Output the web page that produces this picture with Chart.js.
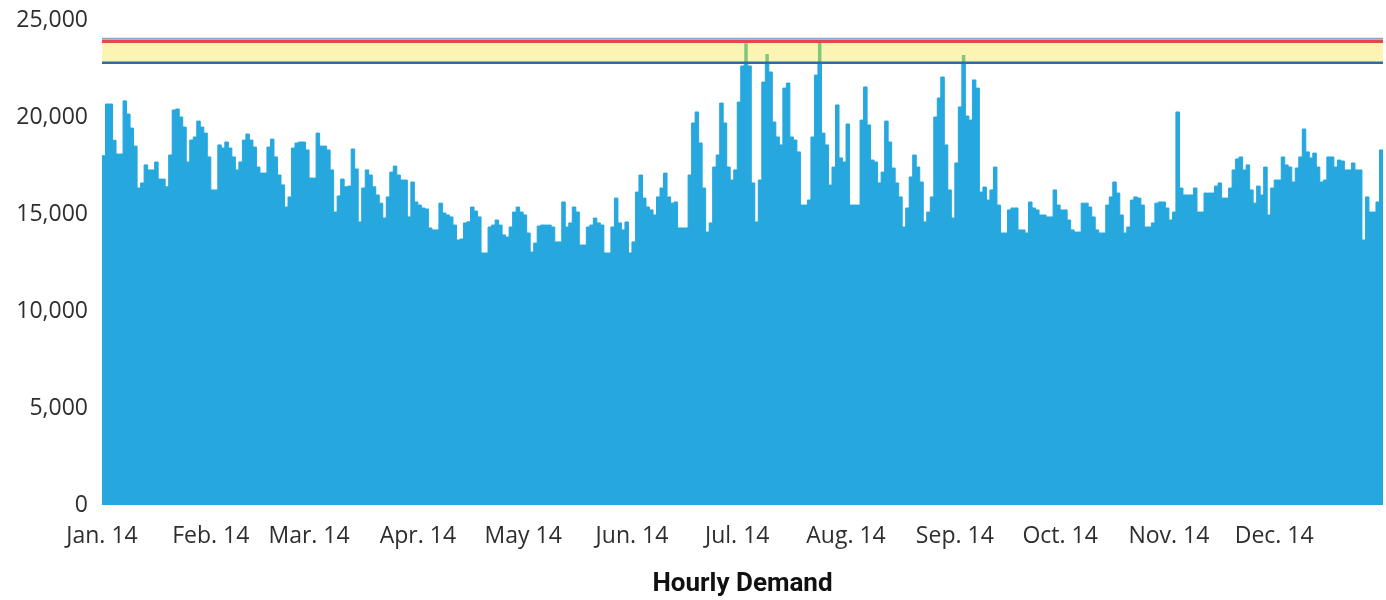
<!DOCTYPE html>
<html>
<head>
<meta charset="utf-8">
<title>Hourly Demand</title>
<script src="https://cdn.jsdelivr.net/npm/chart.js@4.4.1/dist/chart.umd.min.js"></script>
<style>
  html, body { margin: 0; padding: 0; background: #fff; }
  #wrap { width: 1386px; height: 600px; }
</style>
</head>
<body>
<div id="wrap"><canvas id="demandChart"></canvas></div>
<script>
const monthLabels = ['Jan. 14', 'Feb. 14', 'Mar. 14', 'Apr. 14', 'May 14', 'Jun. 14',
                     'Jul. 14', 'Aug. 14', 'Sep. 14', 'Oct. 14', 'Nov. 14', 'Dec. 14'];
const yTicks = [0, 5000, 10000, 15000, 20000, 25000];

// daily peak demand
const jan = [18000, 20670, 20670, 18800, 18090, 18090, 20830, 20150, 19430, 18500, 16340, 16600, 17530, 17270, 17270, 17680,
             16800, 16800, 16400, 18040, 20360, 20410, 20000, 19480, 17680, 18810, 18970, 19790, 19480, 19170, 17940];
const feb = [16240, 16240, 18560, 18400, 18710, 18400, 17940, 17270, 17680, 18810, 19120, 18810, 18450, 17420, 17110, 17110,
             18450, 18860, 17940, 17010, 16500, 15360, 15880, 18400, 18660, 18710, 18710, 18300];
const mar = [16850, 16850, 19170, 18500, 18500, 18300, 17270, 15100, 15930, 16800, 16400, 16440, 18350, 17320, 14590, 16340,
             17270, 17010, 16400, 15980, 15560, 14790, 15880, 17160, 17470, 17010, 16750, 16750, 14850, 16650, 15620];
const apr = [15460, 15310, 15260, 14280, 14180, 14180, 15560, 15050, 14950, 14850, 14430, 13660, 13710, 14540, 14600, 15360,
             15150, 14850, 12990, 12990, 14330, 14430, 14690, 14430, 13920, 13810, 14330, 15100, 15360, 15100];
const may = [14950, 14020, 13040, 13500, 14380, 14430, 14430, 14430, 14330, 13560, 13560, 15620, 14330, 14540, 15360, 15100,
             13400, 13400, 14330, 14430, 14790, 14540, 14430, 12990, 12990, 14330, 15820, 14540, 14180, 14590, 12990];
const jun = [13560, 16130, 17010, 15820, 15360, 15210, 14950, 15880, 16340, 17110, 15880, 15560, 15620, 14280, 14280, 14280,
             17010, 19690, 20260, 18660, 16340, 14070, 14540, 17420, 18040, 20720, 19690, 17420, 16750, 17270];
const jul = [20770, 22630, 23800, 22630, 16600, 14590, 16750, 21800, 23250, 22320, 19740, 18970, 18560, 21490, 21750, 18970,
             18810, 18200, 15460, 15460, 15720, 18970, 22160, 23850, 19170, 18560, 16490, 17420, 20620, 17890, 17680];
const aug = [19640, 15460, 15460, 15460, 19840, 21550, 19590, 17780, 17680, 16600, 17160, 19790, 18710, 17370, 16600, 15880,
             14330, 15310, 16910, 18040, 17420, 16650, 14590, 15100, 15880, 20000, 20980, 22060, 18560, 16240, 14790];
const sep = [17630, 20520, 23200, 20050, 19840, 21910, 21490, 16130, 16390, 15720, 16240, 17420, 15460, 14020, 14020, 15210,
             15310, 15310, 14180, 14180, 14020, 15620, 15310, 15210, 14950, 14950, 14850, 14850, 16240, 15460];
const oct = [15210, 15210, 14690, 14180, 14070, 14070, 15560, 15560, 15360, 14850, 14180, 14020, 14020, 15460, 15880, 16650,
             16080, 14950, 14020, 14330, 15720, 15880, 15820, 15460, 14330, 14330, 14540, 15560, 15620, 15620, 15310];
const nov = [14690, 15100, 20260, 16340, 15980, 15980, 15980, 16340, 15100, 15100, 16080, 16080, 16080, 16440, 16600, 15820,
             15820, 16340, 17270, 17840, 17940, 17270, 17530, 16240, 15560, 16440, 15980, 17420, 14950, 16340];
const dec = [16750, 16750, 17940, 17530, 17420, 16650, 17370, 17940, 19380, 18200, 17890, 18140, 17420, 16650, 16750, 17940,
             17940, 17420, 17780, 17730, 17270, 17270, 17630, 17270, 17270, 13660, 15880, 15100, 15100, 15620, 18300];

// reference levels
const capacityLevel = 22800;
const alertLevel = 23900;
const ceilingLevel = 24050;

const months = [jan, feb, mar, apr, may, jun, jul, aug, sep, oct, nov, dec];
const monthStarts = [];
let dayCount = 0;
months.forEach(m => { monthStarts.push(dayCount); dayCount += m.length; });

const daily = months.flat();
const demandPoints = daily.map((v, i) => ({ x: i, y: v }));
demandPoints.push({ x: dayCount, y: daily[daily.length - 1] }); // close the last step

function flatLine(level) {
    return [{ x: 0, y: level }, { x: dayCount, y: level }];
}

Chart.defaults.font.family = "'Open Sans', sans-serif";
Chart.defaults.font.size = 23;
Chart.defaults.color = '#2e2e2e';

const ctx = document.getElementById('demandChart').getContext('2d');

new Chart(ctx, {
    type: 'line',
    data: {
        datasets: [
            {
                label: 'ceiling',
                data: flatLine(ceilingLevel),
                borderColor: '#8aa6cc',
                borderWidth: 1.5,
                pointRadius: 0,
                order: 1
            },
            {
                label: 'alert',
                data: flatLine(alertLevel),
                borderColor: '#e6474c',
                borderWidth: 3.5,
                pointRadius: 0,
                order: 2
            },
            {
                label: 'capacity',
                data: flatLine(capacityLevel),
                borderColor: '#2a6da6',
                borderWidth: 2.5,
                pointRadius: 0,
                order: 3
            },
            {
                label: 'over capacity',
                data: demandPoints,
                stepped: true,
                borderColor: 'rgba(0,0,0,0)',
                borderWidth: 0,
                pointRadius: 0,
                fill: { target: { value: capacityLevel }, above: '#7fc77a', below: 'rgba(0,0,0,0)' },
                order: 4
            },
            {
                label: 'band',
                data: flatLine(alertLevel),
                borderColor: 'rgba(0,0,0,0)',
                borderWidth: 0,
                pointRadius: 0,
                fill: { target: { value: capacityLevel }, above: '#fbf4b3', below: '#fbf4b3' },
                order: 5
            },
            {
                label: 'demand',
                data: demandPoints,
                stepped: true,
                borderColor: '#26a8df',
                backgroundColor: '#26a8df',
                borderWidth: 1,
                pointRadius: 0,
                fill: 'origin',
                order: 6
            }
        ]
    },
    options: {
        responsive: true,
        maintainAspectRatio: false,
        animation: false,
        layout: { padding: { top: 20, right: 3, left: 0, bottom: 0 } },
        plugins: {
            legend: { display: false },
            tooltip: { enabled: false }
        },
        scales: {
            x: {
                type: 'linear',
                min: 0,
                max: dayCount,
                grid: { display: false, drawTicks: false },
                border: { display: false },
                afterBuildTicks: s => { s.ticks = monthStarts.map(v => ({ value: v })); },
                afterFit: s => { s.height = 95; },
                ticks: {
                    autoSkip: false,
                    maxRotation: 0,
                    padding: 18,
                    callback: v => monthLabels[monthStarts.indexOf(v)]
                },
                title: {
                    display: true,
                    text: 'Hourly Demand',
                    color: '#111',
                    font: { family: 'Roboto', weight: 'bold', size: 26 },
                    padding: { top: 20, bottom: 0 }
                }
            },
            y: {
                min: 0,
                max: 25000,
                grid: { display: false, drawTicks: false },
                border: { display: false },
                afterBuildTicks: s => { s.ticks = yTicks.map(v => ({ value: v })); },
                afterFit: s => { s.width = 102; s.paddingTop = 0; s.paddingBottom = 0; },
                ticks: {
                    padding: 14,
                    callback: v => v.toLocaleString('en-US')
                }
            }
        }
    }
});
</script>
</body>
</html>
